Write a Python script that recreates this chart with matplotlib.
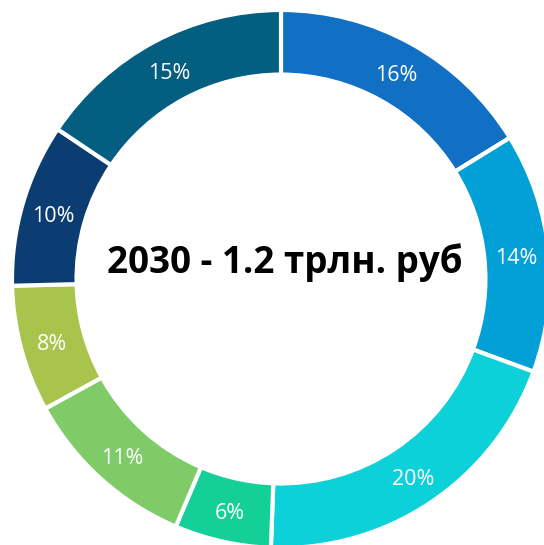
import matplotlib
matplotlib.use("Agg")
import matplotlib.pyplot as plt

shares = [16.2, 14.4, 20.0, 5.8, 10.6, 7.6, 9.8, 15.6]
labels = ["16%", "14%", "20%", "6%", "11%", "8%", "10%", "15%"]
colors = ["#1170c4", "#03a0d8", "#0dd1d8", "#14cf97", "#7ecb67", "#a8c44c", "#0c3d72", "#045e80"]
center_title = "2030 - 1.2 трлн. руб"

plt.rcParams['font.family'] = ['Open Sans', 'DejaVu Sans']

fig = plt.figure(figsize=(5.44, 5.45), dpi=100)
ax = fig.add_axes([0, 0, 1, 1])
R = 269.0
cx, cy = 281.0, 279.0
W, H = 544.0, 545.0

wedges, texts = ax.pie(shares, labels=labels, colors=colors, startangle=90, counterclock=False,
                       radius=1.0, labeldistance=0.88,
                       wedgeprops=dict(width=0.24, edgecolor="white", linewidth=3),
                       textprops=dict(color="white", fontsize=15.5, ha="center", va="center"))
for t in texts:
    x, y = t.get_position()
    t.set_position((x, y - 3.5 / R))

ax.set_xlim(-cx / R, (W - cx) / R)
ax.set_ylim(-(H - cy) / R, cy / R)
ax.set_aspect('auto')
ax.axis('off')

ax.text(4 / R, 16 / R, center_title, ha="center", va="center", fontsize=26.5,
        fontweight="bold", color="black")

fig.savefig("out.png", dpi=100)
